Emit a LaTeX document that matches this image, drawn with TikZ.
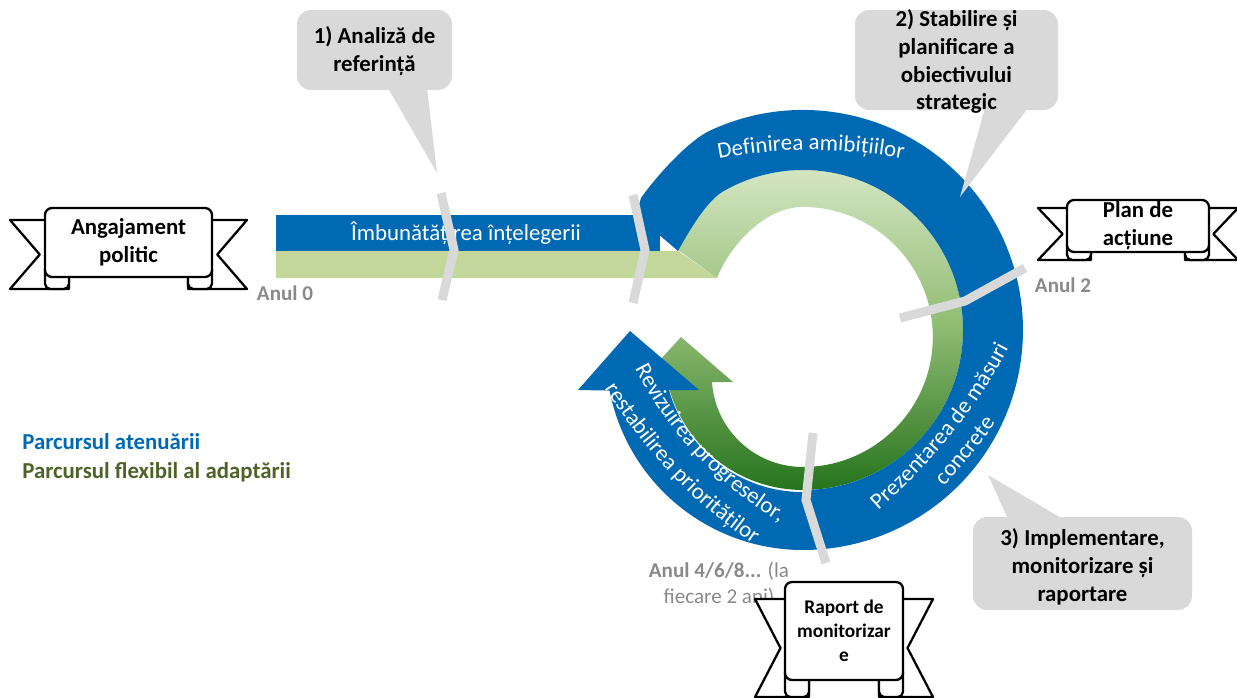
\documentclass[tikz,border=0pt]{standalone}
\usepackage{fontspec}
\setmainfont{Carlito}
\usetikzlibrary{decorations.text}

\definecolor{ringblue}{RGB}{0,105,180}
\definecolor{barfill}{RGB}{196,215,155}
\definecolor{greentop}{RGB}{221,235,205}
\definecolor{greenmid}{RGB}{148,190,118}
\definecolor{greenbot}{RGB}{38,116,30}
\definecolor{legendgreen}{RGB}{79,98,40}
\definecolor{sepgrey}{RGB}{217,217,217}
\definecolor{yeargrey}{RGB}{137,137,137}

\newcommand{\lbl}{\fontsize{13}{15.9}\selectfont}
% ribbon banner: name, top-left x/y, bottom-right x/y, wing length, wing drop, font, text
\newcommand{\ribbon}[9]{%
  \pgfmathsetmacro{\ribmid}{(#3+#5)/2+#7}
  \draw[ribbonline] (#2+24,#3+#7) -- (#2-#6,#3+#7) -- (#2-0.15*#6,\ribmid) -- (#2-#6,#5+#7) -- (#2+24,#5+#7) -- cycle;
  \draw[ribbonline] (#4-24,#3+#7) -- (#4+#6,#3+#7) -- (#4+0.15*#6,\ribmid) -- (#4+#6,#5+#7) -- (#4-24,#5+#7) -- cycle;
  \draw[ribbonline, rounded corners=3pt] (#2+24,#5-8) -- (#2+24,#5+#7) -- (#2,#5+#7) -- (#2,#5-8);
  \draw[ribbonline, rounded corners=3pt] (#4-24,#5-8) -- (#4-24,#5+#7) -- (#4,#5+#7) -- (#4,#5-8);
  \draw[ribbonline, rounded corners=4pt] (#2,#3) rectangle (#4,#5);
  \node[font=#8, align=center] (#1) at ({(#2+#4)/2},{(#3+#5)/2}) {#9};
}

\begin{document}
\begin{tikzpicture}[x=0.02cm, y=-0.02cm,
    separator/.style={draw=sepgrey, line width=0.18cm, line join=miter},
    calloutbg/.style={fill=sepgrey},
    callouttext/.style={font=\lbl\bfseries, align=center},
    ribbonline/.style={draw=black, fill=white, line width=1.3pt, line join=round},
    yearlabel/.style={font=\fontsize{12}{14.6}\selectfont\bfseries, text=yeargrey},
    bandtext/.style={decorate, decoration={text along path, text align=center, text={|\lbl\color{white}|#1}}}]

\useasboundingbox (0,0) rectangle (1237,697);

% adaptation path (green)
\fill[barfill] (276,251) -- (678,251) -- (717,278) -- (276,278) -- cycle;
\shade[top color=greentop, bottom color=greenbot, middle color=greenmid]
  (717,278) -- (678,250) .. controls (688,233) and (706,201.4) .. (723,191.4)
  arc[start angle=-120, end angle=90, radius=160]
  arc[start angle=90, end angle=168, radius=139]
  -- (640,382) -- (681,337) -- (733,382) -- (712,382)
  arc[start angle=176.2, end angle=90, radius=91]
  arc[start angle=90, end angle=-90, radius=130]
  .. controls (765,207) and (730,245) .. (717,278) -- cycle;

% mitigation path (blue)
\fill[ringblue] (276,215) rectangle (660,251);
\fill[ringblue] (636,215) -- (641,198) .. controls (655,178) and (687.4,141.2) .. (710,130.6)
  arc[start angle=-115, end angle=90, radius=220]
  arc[start angle=90, end angle=169, radius=197]
  -- (578,390) -- (630,331) -- (699,390) -- (669,390)
  arc[start angle=164.6, end angle=90, radius=139]
  -- (803,490) arc[start angle=90, end angle=-120, radius=160]
  .. controls (706,201.4) and (688,233) .. (678,251) -- cycle;

% texts on the bands
\node[font=\lbl, text=white] (intelegere) at (466,233) {Îmbunătățirea înțelegerii};
\path[bandtext={Definirea amibițiilor}] (682.6,166.9) arc[start angle=255, end angle=285, radius=496];
\path[bandtext={Prezentarea de măsuri}] (857.2,529) -- (876,512.5) .. controls (934,461.5) and (978.7,405.8) .. (1010,345.5) -- (1021.5,323.3);
\path[bandtext={concrete}] (877.2,549) -- (896,532.5) .. controls (954,481.5) and (998.7,425.8) .. (1030,365.5) -- (1041.5,343.3);
\path[bandtext={Revizuirea progreselor,}] (621.8,342.9) -- (635.5,369.6) .. controls (667.8,432.3) and (715.5,482.9) .. (778.5,521.6) -- (804.1,537.3);
\path[bandtext={restabilirea priorităților}] (590.4,366.9) -- (606.8,392) .. controls (647.1,454) and (694.8,504) .. (749.8,542) -- (774.5,559.1);

% year separators
\draw[separator] (441,193) -- (454,250) -- (442,300);
\draw[separator] (633,195) -- (645,250) -- (633,303);
\draw[separator] (900,318) -- (965,301) -- (1025,268);
\draw[separator] (813,433) -- (806,500) -- (826,563);

% callouts
\fill[calloutbg, rounded corners=8pt] (297,10) rectangle (452,90);
\fill[calloutbg] (388,88) -- (427,88) -- (437,173) -- cycle;
\node[callouttext] (analiza) at (374.5,51) {1) Analiză de\\referință};

\fill[calloutbg, rounded corners=8pt] (855,10) rectangle (1058,110);
\fill[calloutbg] (985,108) -- (1028,108) -- (960,197) -- cycle;
\node[callouttext] (stabilire) at (956.5,61.5) {2) Stabilire și\\planificare a\\obiectivului\\strategic};

\fill[calloutbg, rounded corners=8pt] (973,517) rectangle (1192,610);
\fill[calloutbg] (1008,519) -- (1063,519) -- (988,475) -- cycle;
\node[callouttext] (implementare) at (1082.5,566.5) {3) Implementare,\\monitorizare și\\raportare};

% years
\node[yearlabel] (an0) at (285,293) {Anul 0};
\node[yearlabel] (an2) at (1063,285) {Anul 2};
\node[yearlabel, align=center] (an4) at (719,584) {Anul 4/6/8... \textmd{(la}\\\textmd{fiecare 2 ani)}};

% banners
\ribbon{angajament}{45}{208}{212}{277}{35}{12}{\lbl\bfseries}{Angajament\\politic}
\ribbon{plan}{1067}{200}{1209}{252}{29}{8}{\lbl\bfseries}{Plan de\\acțiune}
\ribbon{raport}{785}{582}{903}{680}{30}{17}{\fontsize{11}{13.6}\selectfont\bfseries}{Raport de\\monitorizar\\e}

% legend
\node[anchor=west, inner sep=0pt, font=\lbl\bfseries, text=ringblue] (atenuare) at (22,442) {Parcursul atenuării};
\node[anchor=west, inner sep=0pt, font=\lbl\bfseries, text=legendgreen] (adaptare) at (22,472) {Parcursul flexibil al adaptării};

\end{tikzpicture}
\end{document}
